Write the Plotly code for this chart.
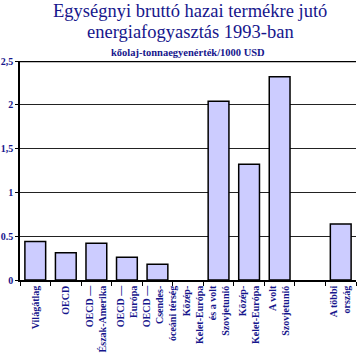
import plotly.graph_objects as go

categories = [
    "Világátlag",
    "OECD",
    "OECD —<br>Észak-Amerika",
    "OECD —<br>Európa",
    "OECD —<br>Csendes-<br>óceáni térség",
    "",
    "Közép-<br>Kelet-Európa<br>és a volt<br>Szovjetunió",
    "Közép-<br>Kelet-Európa",
    "A volt<br>Szovjetunió",
    "",
    "A többi<br>ország",
]
values = [0.44, 0.31, 0.42, 0.26, 0.18, None, 2.04, 1.32, 2.32, None, 0.64]
y_tickvals = [0, 0.5, 1, 1.5, 2, 2.5]
y_ticktext = ["0", "0.5", "1", "1,5", "2", "2,5"]

title_lines = ["Egységnyi bruttó hazai termékre jutó", "energiafogyasztás 1993-ban"]
unit_text = "kőolaj-tonnaegyenérték/1000 USD"

navy = "#16168c"
serif = "Liberation Serif, Times New Roman, serif"

xpos = list(range(len(categories)))
# label positions (one label sits left of its slot centre in the original)
label_shift = {6: -0.4, 4: 0.08}
tickpos = [i + label_shift.get(i, 0) for i in xpos if categories[i]]
ticklab = [categories[i] for i in xpos if categories[i]]

fig = go.Figure()
fig.add_trace(go.Bar(
    x=xpos, y=values, width=0.68,
    marker=dict(color="#ccccff", line=dict(color="black", width=1.5)),
    hoverinfo="skip",
))

fig.update_layout(
    width=357, height=356,
    margin=dict(l=20, r=1, t=61, b=76),
    paper_bgcolor="white", plot_bgcolor="white",
    showlegend=False,
    font=dict(family=serif, color=navy),
)
fig.update_xaxes(
    range=[-0.5, len(categories) - 0.5],
    tickmode="array", tickvals=tickpos, ticktext=ticklab,
    tickangle=-90, ticks="",
    tickfont=dict(family=serif, size=10, color=navy, weight="bold"),
    showline=True, linecolor="black", linewidth=1.5,
    showgrid=False, zeroline=False, automargin=False,
    minor=dict(tickmode="linear", tick0=0.5, dtick=1, ticks="outside",
               ticklen=4, tickcolor="black", tickwidth=1, showgrid=False),
)
fig.update_yaxes(
    range=[0, 2.5],
    tickmode="array", tickvals=y_tickvals, ticktext=y_ticktext,
    tickfont=dict(family=serif, size=10, color=navy, weight="bold"),
    ticks="outside", ticklen=3, tickcolor="black",
    showline=True, linecolor="black", linewidth=1.5,
    showgrid=True, gridcolor="#222222", gridwidth=1,
    zeroline=False, automargin=False,
)
fig.add_shape(type="line", xref="paper", yref="y", x0=0, x1=1, y0=2.5, y1=2.5,
              line=dict(color="black", width=2.5))
for k, line in enumerate(title_lines):
    fig.add_annotation(text=line, xref="paper", yref="paper", x=0.506, y=1,
                       yshift=62 - 21 * k, yanchor="top", showarrow=False,
                       font=dict(family=serif, size=18.5, color=navy))
fig.add_annotation(text=unit_text, xref="paper", yref="paper", x=0.5, y=1,
                   yshift=1, yanchor="bottom", showarrow=False,
                   font=dict(family=serif, size=10.5, color=navy, weight="bold"))

fig.write_html("out.html", config={"displayModeBar": False},
               post_script="document.body.style.margin='0';document.body.style.overflow='hidden';")
